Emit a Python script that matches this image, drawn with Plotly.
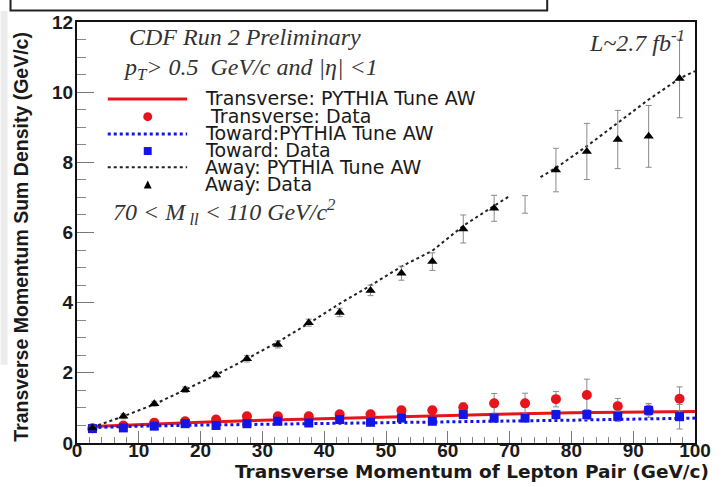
import plotly.graph_objects as go

# ---------------- data ----------------
bins = [2.5, 7.5, 12.5, 17.5, 22.5, 27.5, 32.5, 37.5, 42.5, 47.5,
        52.5, 57.5, 62.5, 67.5, 72.5, 77.5, 82.5, 87.5, 92.5, 97.5]

away_data = [0.43, 0.76, 1.12, 1.52, 1.94, 2.40, 2.81, 3.43, 3.72, 4.35,
             4.84, 5.17, 6.10, 6.69, 6.80, 7.78, 8.31, 8.65, 8.74, 10.39]
away_err = [0.05, 0.07, 0.07, 0.08, 0.08, 0.09, 0.10, 0.10, 0.12, 0.15,
            0.20, 0.25, 0.40, 0.37, 0.25, 0.62, 0.80, 0.83, 0.88, 1.12]
away_marker_shown = [1, 1, 1, 1, 1, 1, 1, 1, 1, 1, 1, 1, 1, 1, 0, 1, 1, 1, 1, 1]

trans_data = [0.42, 0.50, 0.58, 0.62, 0.67, 0.76, 0.76, 0.76, 0.82, 0.82,
              0.93, 0.93, 1.02, 1.13, 1.13, 1.25, 1.37, 1.05, 0.93, 1.26]
trans_err = [0.03, 0.04, 0.04, 0.05, 0.05, 0.05, 0.06, 0.06, 0.07, 0.08,
             0.09, 0.10, 0.12, 0.28, 0.29, 0.22, 0.45, 0.22, 0.15, 0.34]

toward_data = [0.41, 0.43, 0.48, 0.55, 0.50, 0.55, 0.62, 0.57, 0.67, 0.59,
               0.71, 0.62, 0.81, 0.71, 0.71, 0.81, 0.81, 0.76, 0.93, 0.75]
toward_err = [0.03, 0.03, 0.04, 0.04, 0.04, 0.05, 0.05, 0.05, 0.06, 0.06,
              0.07, 0.08, 0.09, 0.10, 0.10, 0.12, 0.14, 0.15, 0.20, 0.35]

pyth_away_x = [2.5, 7.5, 12.5, 17.5, 22.5, 27.5, 32.5, 37.5, 42.5, 47.5,
               52.5, 57.5, 62.5, 67.5, 70.0, 72.5, 75.0, 77.5, 82.5, 87.5,
               92.5, 97.5, 100.0]
pyth_away_y = [0.45, 0.76, 1.10, 1.52, 1.94, 2.40, 2.88, 3.41, 3.97, 4.49,
               5.03, 5.48, 6.19, 6.76, 7.04, None, 7.58, 7.84, 8.46, 9.12,
               9.79, 10.39, 10.6]

pyth_trans_x = [2.5, 10, 20, 30, 40, 50, 60, 70, 80, 90, 100]
pyth_trans_y = [0.47, 0.53, 0.59, 0.65, 0.70, 0.75, 0.80, 0.83, 0.86, 0.88, 0.90]

pyth_toward_x = [2.5, 10, 20, 30, 40, 50, 60, 70, 80, 90, 100]
pyth_toward_y = [0.44, 0.48, 0.51, 0.53, 0.55, 0.57, 0.59, 0.62, 0.65, 0.68, 0.71]

legend_labels = ["Transverse: PYTHIA Tune AW", "&nbsp;Transverse: Data",
                 "Toward:PYTHIA Tune AW", "Toward: Data",
                 "Away: PYTHIA Tune AW", "Away: Data"]

x_ticks = [0, 10, 20, 30, 40, 50, 60, 70, 80, 90, 100]
y_ticks = [0, 2, 4, 6, 8, 10, 12]

# ---------------- geometry helpers (pixel -> paper) ----------------
W, H = 723, 487
L, R, T, B = 77, 23, 21, 43.5
PW, PH = W - L - R, H - T - B


def px(x):
    return (x - L) / PW


def py(y):
    return (H - B - y) / PH


RED = "#e8141b"
BLUE = "#1414e6"
ERRC = "#8a8a8a"

fig = go.Figure()

# model curves
fig.add_trace(go.Scatter(x=pyth_trans_x, y=pyth_trans_y, mode="lines",
                         line=dict(color=RED, width=3), hoverinfo="skip"))
fig.add_trace(go.Scatter(x=pyth_toward_x, y=pyth_toward_y, mode="lines",
                         line=dict(color=BLUE, width=3, dash="dot"), hoverinfo="skip"))
fig.add_trace(go.Scatter(x=pyth_away_x, y=pyth_away_y, mode="lines",
                         line=dict(color="#222222", width=2, dash="dot"),
                         connectgaps=False, hoverinfo="skip"))

# data
err_style = dict(type="data", color=ERRC, thickness=1, width=3)
fig.add_trace(go.Scatter(x=bins, y=trans_data, mode="markers",
                         error_y=dict(array=trans_err, **err_style),
                         marker=dict(color=RED, size=10, symbol="circle")))
fig.add_trace(go.Scatter(x=bins, y=toward_data, mode="markers",
                         error_y=dict(array=toward_err, **err_style),
                         marker=dict(color=BLUE, size=9, symbol="square")))
fig.add_trace(go.Scatter(x=bins, y=away_data, mode="markers",
                         error_y=dict(array=away_err, **err_style),
                         marker=dict(color="black", size=9, symbol="triangle-up",
                                     opacity=away_marker_shown)))

annotations = []
shapes = []

# header box (cropped title box at the top)
shapes.append(dict(type="rect", xref="paper", yref="paper",
                   x0=px(10), x1=px(551), y0=py(9.5), y1=py(-5),
                   line=dict(color="#222", width=2), fillcolor="rgba(0,0,0,0)"))
# faint grey stripe at left edge
shapes.append(dict(type="rect", xref="paper", yref="paper",
                   x0=px(0), x1=px(7), y0=py(365), y1=py(10),
                   line=dict(width=0), fillcolor="#ececec", layer="below"))

serif = "Liberation Serif"
sans = "Liberation Sans"
wide = "DejaVu Sans"
txtc = "#333333"

annotations.append(dict(xref="paper", yref="paper", x=px(127), y=py(36),
                        xanchor="left", yanchor="middle", showarrow=False,
                        text="<i>CDF Run 2 Preliminary</i>",
                        font=dict(family=serif, size=24, color=txtc)))
annotations.append(dict(xref="paper", yref="paper", x=px(121), y=py(68),
                        xanchor="left", yanchor="middle", showarrow=False,
                        text="<i>p<sub>T</sub>> 0.5  GeV/c and |η| <1</i>",
                        font=dict(family=serif, size=24, color=txtc)))
annotations.append(dict(xref="paper", yref="paper", x=px(111), y=py(212),
                        xanchor="left", yanchor="middle", showarrow=False,
                        text="<i>70 < M<sub> ll</sub> < 110 GeV/c<sup>2</sup></i>",
                        font=dict(family=serif, size=24, color=txtc)))
annotations.append(dict(xref="paper", yref="paper", x=px(692), y=py(40),
                        xanchor="right", yanchor="middle", showarrow=False,
                        text="<i>L~2.7 fb<sup>-1</sup></i>",
                        font=dict(family=serif, size=24, color=txtc)))

# manual legend
leg_y = [97.5, 115, 132, 149, 166.5, 184]
for lab, yy in zip(legend_labels, leg_y):
    annotations.append(dict(xref="paper", yref="paper", x=px(204), y=py(yy),
                            xanchor="left", yanchor="middle", showarrow=False,
                            text=lab,
                            font=dict(family=wide, size=19, color="#1a1a1a")))
# legend line samples
shapes.append(dict(type="line", xref="paper", yref="paper",
                   x0=px(108), x1=px(188), y0=py(98.3), y1=py(98.3),
                   line=dict(color=RED, width=3)))
shapes.append(dict(type="line", xref="paper", yref="paper",
                   x0=px(108), x1=px(188), y0=py(133.3), y1=py(133.3),
                   line=dict(color=BLUE, width=3, dash="dot")))
shapes.append(dict(type="line", xref="paper", yref="paper",
                   x0=px(108), x1=px(188), y0=py(166.7), y1=py(166.7),
                   line=dict(color="#222", width=2, dash="dot")))
# legend marker samples
cx = 148.3
shapes.append(dict(type="circle", xref="paper", yref="paper",
                   x0=px(cx - 4.5), x1=px(cx + 4.5), y0=py(116 + 4.5), y1=py(116 - 4.5),
                   line=dict(width=0), fillcolor=RED))
shapes.append(dict(type="rect", xref="paper", yref="paper",
                   x0=px(cx - 4), x1=px(cx + 4), y0=py(150.5 + 4), y1=py(150.5 - 4),
                   line=dict(width=0), fillcolor=BLUE))
shapes.append(dict(type="path", xref="paper", yref="paper",
                   path=f"M {px(cx-4)} {py(188)} L {px(cx+4)} {py(188)} L {px(cx)} {py(180)} Z",
                   line=dict(width=0), fillcolor="black"))

# axis titles
annotations.append(dict(xref="paper", yref="paper", x=px(716), y=py(472),
                        xanchor="right", yanchor="middle", showarrow=False,
                        text="Transverse Momentum of Lepton Pair (GeV/c)",
                        font=dict(family=wide, size=18.5, color="#1a1a1a", weight="bold")))
annotations.append(dict(xref="paper", yref="paper", x=px(21), y=py(236),
                        xanchor="center", yanchor="middle", showarrow=False,
                        textangle=-90,
                        text="Transverse Momentum Sum Density (GeV/c)",
                        font=dict(family=sans, size=19.5, color="#1a1a1a", weight="bold")))

tickfont = dict(family=sans, size=19, color="#1a1a1a", weight="bold")

fig.update_layout(
    width=W, height=H,
    margin=dict(l=L, r=R, t=T, b=B, pad=0),
    paper_bgcolor="white", plot_bgcolor="white",
    showlegend=False,
    annotations=annotations, shapes=shapes,
    xaxis=dict(range=[0, 100], tickvals=x_ticks, ticktext=[str(v) for v in x_ticks],
               ticks="inside", ticklen=12, tickcolor="#777", tickwidth=1,
               minor=dict(ticks="inside", dtick=2, ticklen=6, tickcolor="#888"),
               ticklabelstandoff=-11,
               showline=True, linecolor="#111", linewidth=2, mirror=True,
               showgrid=False, zeroline=False, tickfont=tickfont),
    yaxis=dict(range=[0, 12], tickvals=y_ticks, ticktext=[str(v) for v in y_ticks],
               ticks="inside", ticklen=17, tickcolor="#777", tickwidth=1,
               minor=dict(ticks="inside", dtick=0.5, ticklen=9, tickcolor="#888"),
               ticklabelstandoff=-2,
               showline=True, linecolor="#111", linewidth=2, mirror=True,
               showgrid=False, zeroline=False, tickfont=tickfont),
)

fig.write_html("out.html")
